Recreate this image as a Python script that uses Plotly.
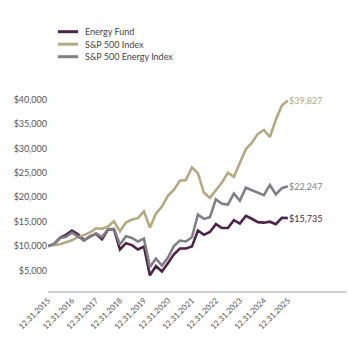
import plotly.graph_objects as go

# Growth of $10,000, quarter-end values from 12.31.2015 to 12.31.2025
quarters = list(range(41))
year_ticks = [0, 4, 8, 12, 16, 20, 24, 28, 32, 36, 40]
tick_labels = ["12.31.2015", "12.31.2016", "12.31.2017", "12.31.2018", "12.31.2019",
               "12.31.2020", "12.31.2021", "12.31.2022", "12.31.2023", "12.31.2024",
               "12.31.2025"]

energy_fund = [10000, 10400, 11700, 12300, 13200, 12400, 11200, 12000, 12500, 11400,
               13400, 13400, 9300, 10600, 10200, 9300, 9900, 4000, 5900, 4800,
               6500, 8300, 9500, 9500, 9900, 13200, 12300, 12900, 14500, 13700,
               13700, 15300, 14600, 16200, 15600, 14900, 14800, 15000, 14500, 15800,
               15735]

sp500 = [10000, 10135, 10384, 10784, 11196, 11876, 12243, 12791, 13640, 13536,
         14001, 15080, 13042, 14822, 15459, 15722, 17149, 13788, 16620, 18104,
         20304, 21557, 23400, 23536, 26133, 24931, 20917, 19896, 21400, 23005,
         25016, 24198, 27027, 29881, 31160, 32996, 33791, 32348, 35887, 38801,
         39827]

sp500_energy = [10000, 10420, 11630, 11897, 12766, 11910, 11150, 11900, 12620, 11852,
                13452, 13533, 10312, 12003, 11667, 10932, 11533, 5709, 7450, 5983,
                7646, 10009, 11140, 10951, 11816, 16424, 15570, 15943, 19578, 18658,
                18490, 20746, 19315, 21961, 21434, 20941, 20438, 22523, 20586, 21862,
                22247]

y_ticks = [5000, 10000, 15000, 20000, 25000, 30000, 35000, 40000]

PURPLE = "#4e2347"
TAN = "#b5a982"
GRAY = "#808084"
FONT = "Lato"

series = [
    ("Energy Fund", energy_fund, PURPLE),
    ("S&P 500 Index", sp500, TAN),
    ("S&P 500 Energy Index", sp500_energy, GRAY),
]

W, H = 348, 340
M_L, M_R, M_T, M_B = 48, 2, 85, 49
plot_w = W - M_L - M_R
plot_h = H - M_T - M_B


def paper_x(px):
    return (px - M_L) / plot_w


def paper_y(py):
    return (H - M_B - py) / plot_h


fig = go.Figure()
for i, (name, vals, color) in enumerate(series):
    fig.add_trace(go.Scatter(
        x=quarters, y=vals, name=name, mode="lines",
        line=dict(color=color, width=2.6),
        hoverinfo="skip", showlegend=False,
    ))
    # ending value label next to the last point
    fig.add_annotation(
        x=quarters[-1], y=vals[-1], text=f"${vals[-1]:,}",
        xanchor="left", yanchor="middle", showarrow=False, xshift=-1,
        font=dict(family=FONT, size=9, color=color),
    )
    # compact legend entry: short line sample plus label
    row_y = paper_y(31.7 + i * 12.5)
    fig.add_shape(
        type="line", xref="paper", yref="paper",
        x0=paper_x(58), x1=paper_x(78), y0=row_y, y1=row_y,
        line=dict(color=color, width=3),
    )
    fig.add_annotation(
        xref="paper", yref="paper", x=paper_x(83), y=row_y,
        text=name, xanchor="left", yanchor="middle", showarrow=False,
        font=dict(family=FONT, size=9, color="#444444"),
    )

fig.update_layout(
    width=W, height=H,
    margin=dict(l=M_L, r=M_R, t=M_T, b=M_B),
    paper_bgcolor="white", plot_bgcolor="white",
    showlegend=False,
    font=dict(family=FONT, size=9, color="#555555"),
)

fig.update_xaxes(
    range=[0, 49.7], tickmode="array", tickvals=year_ticks, ticktext=tick_labels,
    tickangle=-45, showgrid=False, zeroline=False,
    showline=True, linecolor="#cfcfcf", linewidth=1.5,
    ticks="", tickfont=dict(family=FONT, size=8, color="#555555"),
)
fig.update_yaxes(
    range=[800, 43000], tickmode="array", tickvals=y_ticks,
    ticktext=[f"${v:,}" for v in y_ticks],
    showgrid=False, zeroline=False, showline=False, ticks="",
    tickfont=dict(family=FONT, size=9, color="#555555"),
)

fig.write_html("out.html")
